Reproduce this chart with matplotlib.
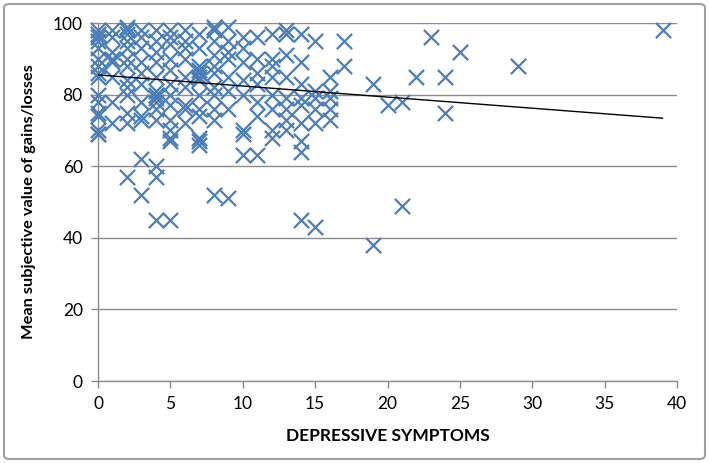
import numpy as np
import matplotlib.pyplot as plt
from matplotlib.patches import FancyBboxPatch

# values (depressive symptom score, mean subjective value)
symptoms = [0]*16 + [1]*8 + [2]*13 + [3]*11 + [4]*14 + [5]*13 + [6]*9 + [7]*13 \
    + [8]*11 + [9]*8 + [10]*8 + [11]*7 + [12]*8 + [13]*8 + [14]*9 + [15]*6 \
    + [16]*5 + [17]*2 + [19]*2 + [20] + [21]*2 + [22] + [23] + [24]*2 + [25] + [29] + [39]
subjective_value = [
    98, 97, 96, 95, 93, 90, 88, 86, 85, 80, 78, 75, 74, 70, 69, 69,
    98, 96, 92, 90, 89, 85, 78, 72,
    99, 98, 97, 95, 93, 90, 88, 84, 82, 80, 75, 72, 57,
    98, 96, 93, 89, 86, 83, 78, 74, 73, 62, 52,
    98, 95, 92, 89, 85, 81, 80, 79, 78, 76, 73, 60, 57, 45,
    98, 96, 94, 90, 87, 83, 80, 77, 73, 70, 68, 67, 45,
    98, 95, 93, 90, 85, 82, 77, 76, 72,
    97, 93, 88, 87, 86, 85, 84, 80, 76, 74, 68, 67, 66,
    99, 98, 95, 91, 88, 86, 82, 80, 76, 73, 52,
    99, 95, 92, 90, 85, 81, 76, 51,
    96, 93, 89, 84, 80, 70, 69, 63,
    96, 90, 86, 83, 78, 74, 63,
    97, 90, 88, 85, 80, 76, 70, 68,
    98, 97, 91, 85, 79, 76, 73, 70,
    97, 89, 83, 79, 77, 72, 67, 64, 45,
    95, 81, 79, 76, 72, 43,
    85, 81, 79, 76, 73,
    95, 88,
    83, 38,
    77,
    78, 49,
    85,
    96,
    85, 75,
    92,
    88,
    98,
]

# Excel linear trendline as drawn in the reference
trend_intercept = 85.5
trend_slope = -0.31

x_ticks = [0, 5, 10, 15, 20, 25, 30, 35, 40]
y_ticks = [0, 20, 40, 60, 80, 100]

BLUE = "#4a7ebb"
GRAY = "#8c8c8c"

plt.rcParams['font.family'] = ['Lato', 'DejaVu Sans']

x = np.array(symptoms)
y = np.array(subjective_value)

fig = plt.figure(figsize=(7.09, 4.63), dpi=100)
ax = fig.add_axes([98/709, 82/463, 579/709, 358/463])

ax.scatter(x, y, marker="x", s=120, color=BLUE, linewidths=1.6, clip_on=False, zorder=3)

xs = np.array([x.min(), x.max()])
ax.plot(xs, trend_slope*xs + trend_intercept, color="black", lw=1, zorder=4)

ax.set_xlim(0, 40)
ax.set_ylim(0, 100)
ax.set_xticks(x_ticks)
ax.set_yticks(y_ticks)
ax.grid(axis="y", color=GRAY, lw=1)
ax.set_axisbelow(True)
for s in ["top", "right"]:
    ax.spines[s].set_visible(False)
for s in ["left", "bottom"]:
    ax.spines[s].set_color(GRAY)
    ax.spines[s].set_linewidth(1)
ax.tick_params(axis="both", color=GRAY, length=5, width=1, labelsize=12.5, pad=6)
ax.set_xlabel("DEPRESSIVE SYMPTOMS", fontsize=12.5, fontweight="bold", labelpad=11)
ax.set_ylabel("Mean subjective value of gains/losses", fontsize=11.8, fontweight="bold", labelpad=12)

border = FancyBboxPatch((4/709, 4/463), 701/709, 455/463, boxstyle="round,pad=0,rounding_size=0.008",
                        transform=fig.transFigure, fill=False, edgecolor="#a0a0a0", lw=1.5)
fig.patches.append(border)

fig.savefig("out.png", dpi=100)
